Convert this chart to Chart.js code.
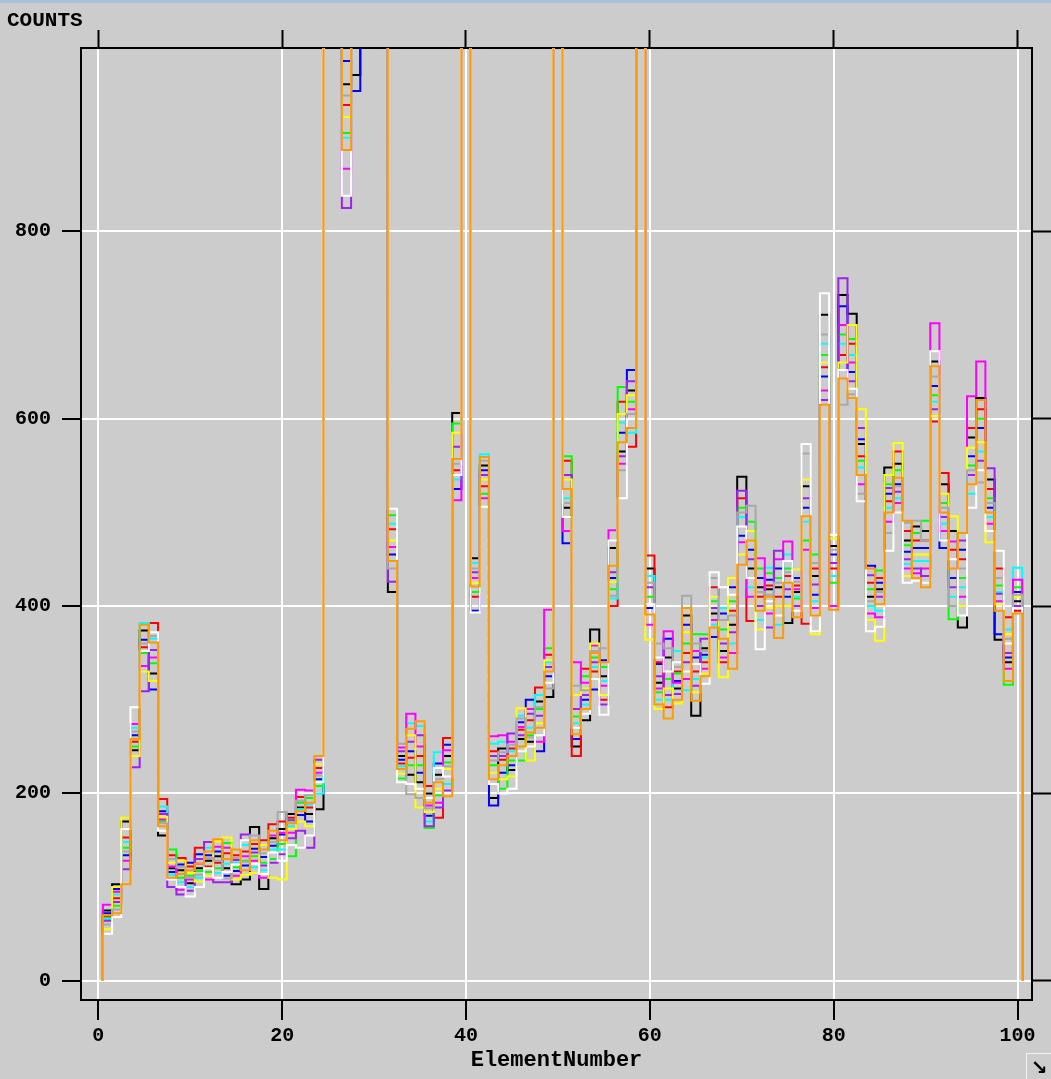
<!DOCTYPE html>
<html>
<head>
<meta charset="utf-8">
<script src="https://cdn.jsdelivr.net/npm/chart.js@4.4.1/dist/chart.umd.min.js"></script>
<style>
  html, body { margin: 0; padding: 0; background: #cccccc; }
  #wrap { position: relative; width: 1051px; height: 1079px; overflow: hidden; }
  #bar { position: absolute; left: 0; top: 0; width: 1051px; height: 3px; background: #a9bfd6; }
  #grip { position: absolute; left: 1026px; top: 1053px; width: 25px; height: 26px;
          border-left: 1px solid #f4f4f4; border-top: 1px solid #f4f4f4;
          font: bold 20px "DejaVu Sans"; line-height: 26px; text-align: center; color: #000; }
</style>
</head>
<body>
<div id="wrap">
  <canvas id="chart" width="1051" height="1079" style="width:1051px;height:1079px"></canvas>
  <div id="bar"></div>
  <div id="grip">&#8600;</div>
</div>
<script>
// element numbers 1..100 (x categories), one bin each
const elementNumbers = Array.from({ length: 100 }, (_, i) => i + 1);
const xTicks = [0, 20, 40, 60, 80, 100];
const yTicks = [0, 200, 400, 600, 800];

// counts per element, one array per spectrum (1600 = off the top of the plot)
const black = [75,103,170,246,374,328,155,120,118,104, 120,128,133,120,103,108,164,98,152,162,
  178,185,178,183,1600,1600,957,967,1600,1600, 1600,415,240,220,212,200,220,240,606,1600,
  451,550,195,248,225,258,255,298,303,1600, 505,250,278,375,325,462,565,630,1600,440,
  318,345,312,390,283,355,392,352,380,538, 440,420,418,420,382,415,528,432,711,464,
  732,712,573,410,418,548,552,470,485,480, 661,530,480,377,580,622,535,364,340,405];
const blue = [72,98,134,262,364,311,181,116,124,126, 135,134,138,112,117,123,141,132,144,156,
  171,177,170,215,1600,1600,982,950,1600,1600, 1600,455,236,245,222,176,232,252,525,1600,
  395,545,187,222,230,276,300,245,325,1600, 467,258,300,311,342,430,585,652,1600,398,
  338,365,320,380,345,348,367,392,420,475, 460,430,428,440,410,430,505,412,645,455,
  720,650,578,443,425,520,530,458,462,462, 635,462,430,460,560,590,505,370,345,415];
const red = [69,88,153,255,356,382,194,134,131,122, 142,122,126,136,134,138,146,150,167,170,
  174,196,185,227,1600,1600,935,1600,1600,1600, 1600,482,232,238,240,208,174,259,545,1600,
  410,528,245,236,248,268,278,313,348,1600, 555,240,333,330,300,400,618,570,1600,454,
  340,292,330,350,330,340,420,340,395,515, 384,410,422,410,432,422,381,440,655,440,
  668,680,560,425,430,512,565,480,470,470, 597,542,460,450,590,610,525,440,388,395];
const green = [67,80,142,250,350,339,170,140,110,112, 117,116,120,147,121,128,133,126,130,146,
  133,190,195,208,1600,1600,905,1600,1600,1600, 1600,497,216,230,230,163,198,233,595,1600,
  415,520,230,205,235,235,262,290,355,1600, 560,282,325,345,335,418,634,618,1600,410,
  308,322,328,360,370,370,405,375,405,505, 490,440,435,430,440,408,470,455,668,425,
  690,685,555,418,438,530,545,465,478,491, 625,510,386,430,550,600,515,422,316,420];
const cyan = [66,92,148,270,382,365,186,113,105,100, 110,142,115,125,126,145,121,118,140,140,
  165,183,188,200,1600,1600,900,1600,1600,1600, 1600,488,229,275,272,170,244,210,535,1600,
  446,562,253,255,245,283,270,305,340,1600, 515,275,295,335,320,408,596,585,1600,432,
  300,300,352,310,322,345,380,398,360,495, 420,385,441,380,455,410,490,405,680,432,
  680,668,548,400,395,505,515,445,448,448, 618,488,410,420,520,565,495,415,375,441];
const magenta = [81,95,128,274,336,345,172,122,97,108, 125,108,143,142,112,133,128,110,155,158,
  158,204,203,222,1600,1600,867,1600,1600,1600, 1600,463,249,285,250,187,190,246,513,1600,
  430,515,261,262,255,271,290,255,396,1600, 480,340,318,358,315,481,552,610,1600,380,
  312,373,318,322,352,333,385,345,350,468, 410,451,392,450,469,418,460,398,630,400,
  700,660,530,392,388,490,510,440,435,440, 702,480,469,410,624,661,488,405,333,428];
const purple = [64,84,119,228,309,353,178,100,92,96, 130,148,105,105,129,156,137,123,126,135,
  152,160,142,236,1600,1600,825,1600,1600,1600, 1600,426,245,255,262,165,185,203,570,1600,
  436,540,240,240,264,262,285,283,335,1600, 540,290,305,340,295,436,560,640,1600,420,
  325,305,306,340,315,365,398,360,372,523, 450,400,377,459,418,400,515,423,620,446,
  750,640,590,433,410,526,522,450,440,432, 610,495,420,470,540,555,547,413,350,400];
const yellow = [55,100,174,240,330,320,175,126,128,115, 106,112,149,153,108,113,115,145,110,108,
  162,170,165,231,1600,1600,922,1600,1600,1600, 1600,470,221,262,185,180,205,226,585,1600,
  425,535,222,215,218,291,235,275,342,1600, 535,305,312,360,305,426,605,625,1600,364,
  290,312,296,372,308,328,410,324,430,455, 480,375,398,400,400,439,535,370,660,472,
  660,700,610,385,363,540,574,432,455,455, 603,520,496,400,569,575,468,402,370,410];
const white = [50,68,162,292,352,372,160,108,100,90, 100,120,110,116,124,150,125,114,137,128,
  145,142,155,212,1600,1600,838,1600,1600,1600, 1600,504,212,210,205,195,227,218,540,1600,
  393,506,210,200,205,245,250,262,318,1600, 495,270,285,322,284,470,515,600,1600,402,
  345,330,340,330,338,317,436,420,412,485, 430,354,405,390,448,395,573,373,734,476,
  652,632,512,373,378,459,500,425,427,425, 672,470,450,390,505,545,480,459,360,398];
const gray = [60,76,138,266,360,368,168,130,121,110, 113,131,128,109,131,127,155,136,148,180,
  170,192,198,219,1600,1600,945,1600,1600,1600, 1600,440,253,199,195,184,215,229,552,1600,
  440,555,235,244,252,280,260,292,312,1600, 510,315,310,352,355,411,545,605,1600,425,
  360,355,335,411,360,352,430,385,390,500, 507,415,412,425,436,426,563,446,690,460,
  615,626,520,405,415,478,528,489,491,470, 645,505,400,440,545,532,510,430,365,412];
const orange = [70,72,103,258,380,361,165,110,114,118, 125,138,151,130,140,118,150,140,160,150,
  168,181,190,240,1600,1600,887,1600,1600,1600, 1600,448,226,269,277,190,212,197,557,1600,
  421,559,215,230,240,250,265,270,330,1600, 525,263,290,350,340,443,575,590,1600,391,
  295,280,300,398,299,325,377,365,333,444, 470,395,410,366,425,388,496,390,615,396,
  643,622,540,440,402,500,537,491,430,420, 656,500,440,478,530,620,500,395,320,392];

// histogram outline: bin n covers n-0.5 .. n+0.5, starts and ends at zero
function toSteps(values) {
  const pts = [{ x: elementNumbers[0] - 0.5, y: 0 }];
  values.forEach((v, i) => pts.push({ x: elementNumbers[i] - 0.5, y: v }));
  const end = elementNumbers[elementNumbers.length - 1] + 0.5;
  pts.push({ x: end, y: values[values.length - 1] });
  pts.push({ x: end, y: 0 });
  return pts;
}

// first entry is drawn on top
const series = [
  ['orange', orange, '#ff9a00'],
  ['white', white, '#ffffff'],
  ['gray', gray, '#a8a8a8'],
  ['yellow', yellow, '#ffff00'],
  ['purple', purple, '#a020f0'],
  ['magenta', magenta, '#ff00ff'],
  ['cyan', cyan, '#00ffff'],
  ['green', green, '#00ff00'],
  ['red', red, '#ff0000'],
  ['blue', blue, '#0000ff'],
  ['black', black, '#000000']
];

const tickFont = { family: '"Liberation Mono", monospace', size: 20, weight: 'bold' };
const xMin = -1.88, xMax = 101.57, yMin = -20.6, yMax = 995.8;
const setTicks = list => scale => { scale.ticks = list.map(v => ({ value: v })); };

const countsLabel = {
  id: 'countsLabel',
  afterDraw(chart) {
    const ctx = chart.ctx;
    ctx.save();
    ctx.font = 'bold 21px "Liberation Mono", monospace';
    ctx.fillStyle = '#000';
    ctx.textBaseline = 'middle';
    ctx.fillText('COUNTS', 7, 21);
    ctx.restore();
  }
};

new Chart(document.getElementById('chart'), {
  type: 'line',
  data: {
    datasets: series.map(([name, vals, col]) => ({
      label: name,
      data: toSteps(vals),
      borderColor: col,
      borderWidth: 2,
      pointRadius: 0,
      stepped: 'before',
      fill: false,
      clip: 0
    }))
  },
  options: {
    responsive: false,
    animation: false,
    devicePixelRatio: 1,
    layout: { padding: 0 },
    plugins: { legend: { display: false }, tooltip: { enabled: false } },
    scales: {
      x: {
        type: 'linear', position: 'bottom', min: xMin, max: xMax,
        afterBuildTicks: setTicks(xTicks),
        ticks: { color: '#000', font: tickFont, padding: 4, maxRotation: 0, autoSkip: false },
        grid: { color: '#ffffff', lineWidth: 2, tickColor: '#000', tickWidth: 2, tickLength: 20 },
        border: { color: '#000', width: 2 },
        title: { display: true, text: 'ElementNumber', color: '#000',
                 font: { family: '"Liberation Mono", monospace', size: 22, weight: 'bold' },
                 padding: { top: 0, bottom: 5 } },
        afterFit: s => { s.height = 79; }
      },
      xTop: {
        type: 'linear', position: 'top', min: xMin, max: xMax,
        afterBuildTicks: setTicks(xTicks),
        ticks: { display: false },
        grid: { drawOnChartArea: false, tickColor: '#000', tickWidth: 2, tickLength: 18 },
        border: { color: '#000', width: 2 },
        afterFit: s => { s.height = 48; }
      },
      y: {
        type: 'linear', position: 'left', min: yMin, max: yMax,
        afterBuildTicks: setTicks(yTicks),
        ticks: { color: '#000', font: tickFont, padding: 11 },
        grid: { color: '#ffffff', lineWidth: 2, tickColor: '#000', tickWidth: 2, tickLength: 19 },
        border: { color: '#000', width: 2 },
        afterFit: s => { s.width = 81; }
      },
      yRight: {
        type: 'linear', position: 'right', min: yMin, max: yMax,
        afterBuildTicks: setTicks(yTicks),
        ticks: { display: false },
        grid: { drawOnChartArea: false, tickColor: '#000', tickWidth: 2, tickLength: 19 },
        border: { color: '#000', width: 2 },
        afterFit: s => { s.width = 19; }
      }
    }
  },
  plugins: [countsLabel]
});
</script>
</body>
</html>
